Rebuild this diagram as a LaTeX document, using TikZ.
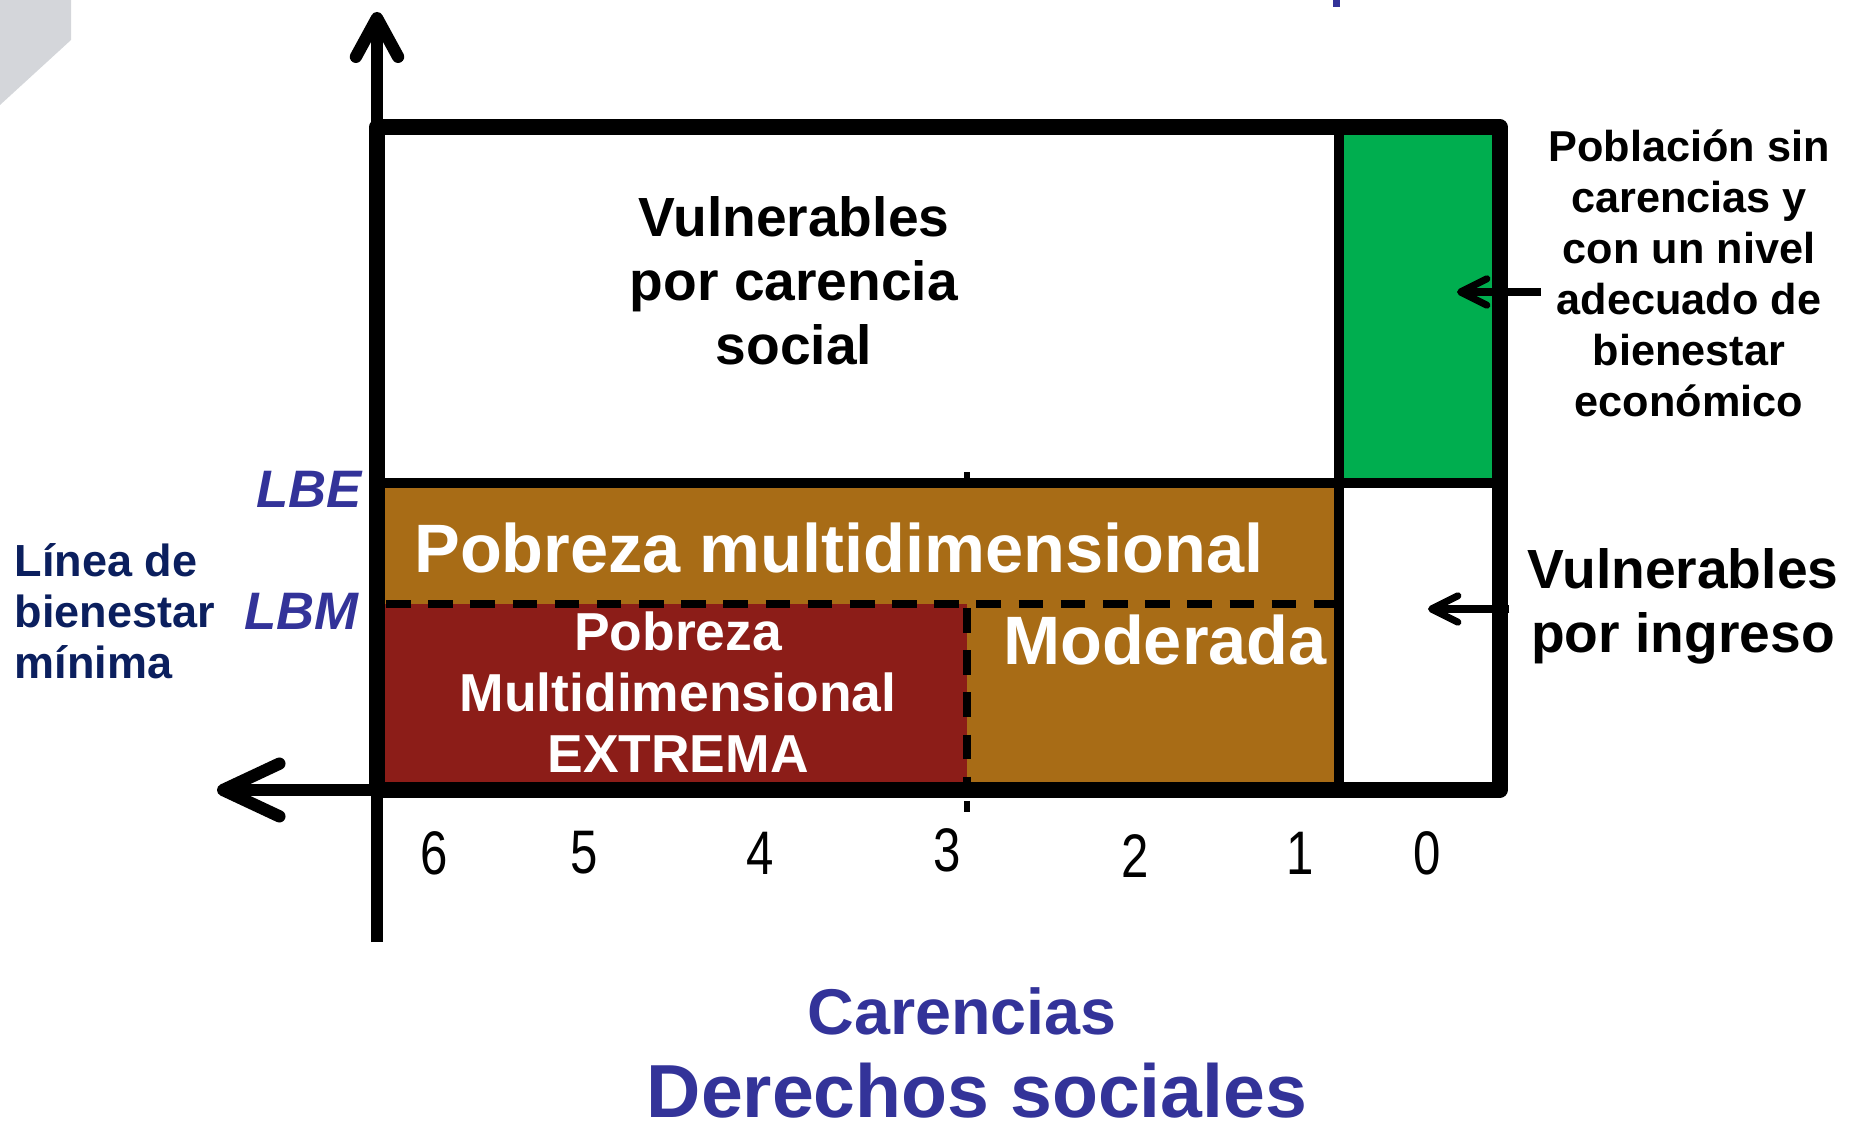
\documentclass[tikz,border=0pt]{standalone}
\usepackage{fontspec}
\setmainfont{Liberation Sans}
\newfontfamily\numfont[FakeStretch=0.8]{Liberation Sans}
\usetikzlibrary{arrows.meta}

\definecolor{pobreza}{HTML}{A86C16}
\definecolor{extrema}{HTML}{8C1D18}
\definecolor{sincarencia}{HTML}{00AE4F}
\definecolor{lineaazul}{HTML}{333399}
\definecolor{lineanavy}{HTML}{0B1F5E}
\definecolor{logogris}{HTML}{D4D6DA}

\tikzset{
	axisy/.style={line width=3.5pt, -{Straight Barb[length=11pt,width=12pt,round]}},
	axisx/.style={line width=3.5pt, -{Straight Barb[length=16pt,width=15pt,round]}},
	pointer/.style={line width=2pt, -{Straight Barb[length=7.5pt,width=7.5pt,round]}},
	frame/.style={line width=4.3pt, line join=round},
	divider/.style={line width=2.7pt},
	cut/.style={line width=2pt, dash pattern=on 7pt off 5pt},
	numlbl/.style={font=\numfont\fontsize{17.5}{20}\selectfont},
	rowlbl/.style={font=\bfseries\itshape\fontsize{15}{18}\selectfont, text=lineaazul, anchor=east, inner sep=1pt},
}

\begin{document}
\begin{tikzpicture}
	% Regions, lines and labels:
	\useasboundingbox (0, 0) rectangle (18.58, 11.25);
	\fill[logogris] (0, 11.25) -- (0.71, 11.25) -- (0.71, 10.85) -- (0, 10.2) -- cycle;
	\fill[lineaazul] (13.33, 11.18) rectangle (13.40, 11.25);
	\fill[pobreza] (3.77, 3.35) rectangle (13.39, 6.42);
	\fill[extrema] (3.77, 3.35) rectangle (9.67, 5.21);
	\fill[sincarencia] (13.39, 6.42) rectangle (15.00, 9.98);
	\draw[cut] (3.86, 5.21) -- (13.39, 5.21);
	\draw[cut] (9.67, 5.17) -- (9.67, 3.35);
	\draw[line width=1.6pt] (9.67, 6.42) -- (9.67, 6.53);
	\draw[line width=1.6pt] (9.67, 3.24) -- (9.67, 3.13);
	\draw[divider] (3.77, 6.42) -- (15.00, 6.42);
	\draw[divider] (13.39, 9.98) -- (13.39, 3.35);
	\coordinate (O) at (3.77, 3.35);
	\coordinate (ytip) at (3.77, 11.13);
	\coordinate (yend) at (3.77, 1.83);
	\coordinate (xtip) at (2.17, 3.35);
	\draw[axisy] (yend) -- (ytip);
	\draw[axisx] (O) -- (xtip);
	\draw[frame] (O) rectangle (15.00, 9.98);
	\node[align=center, font=\bfseries\fontsize{15.7}{18.2}\selectfont] (vulncarencia) at (7.94, 8.44) {Vulnerables\\por carencia\\social};
	\node[font=\bfseries\fontsize{19.5}{23}\selectfont, text=white] (pobmulti) at (8.39, 5.77) {Pobreza multidimensional};
	\node[align=center, font=\bfseries\fontsize{15.2}{17.4}\selectfont, text=white] (pobextrema) at (6.78, 4.33) {Pobreza\\Multidimensional\\EXTREMA};
	\node[font=\bfseries\fontsize{19.5}{23}\selectfont, text=white] (moderada) at (11.65, 4.85) {Moderada};
	\node[align=center, inner sep=2pt, font=\bfseries\fontsize{12.3}{14.5}\selectfont] (poblacion) at (16.89, 8.52) {Población sin\\carencias y\\con un nivel\\adecuado de\\bienestar\\económico};
	\node[align=center, inner sep=2pt, font=\bfseries\fontsize{15.7}{18.2}\selectfont] (vulningreso) at (16.83, 5.19) {Vulnerables\\por ingreso};
	\coordinate (greenpt) at (14.57, 8.33);
	\coordinate (incomept) at (14.28, 5.16);
	\draw[pointer] (poblacion.west |- greenpt) -- (greenpt);
	\draw[pointer] ([xshift=-3pt]vulningreso.west |- incomept) -- (incomept);
	\node[rowlbl] (lbe) at (3.66, 6.36) {LBE};
	\node[rowlbl] (lbm) at (3.63, 5.14) {LBM};
	\node[anchor=west, align=left, inner sep=0pt, text=lineanavy, font=\bfseries\fontsize{12.8}{14.5}\selectfont] (linea) at (0.14, 5.14) {Línea de\\bienestar\\mínima};
	\node[numlbl] (n6) at (4.34, 2.72) {6};
	\node[numlbl] (n5) at (5.84, 2.72) {5};
	\node[numlbl] (n4) at (7.60, 2.72) {4};
	\node[numlbl] (n3) at (9.47, 2.75) {3};
	\node[numlbl] (n2) at (11.35, 2.69) {2};
	\node[numlbl] (n1) at (13.00, 2.72) {1};
	\node[numlbl] (n0) at (14.27, 2.72) {0};
	\node[anchor=base, text=lineaazul, font=\bfseries\fontsize{18.4}{22}\selectfont] (carencias) at (9.62, 0.905) {Carencias};
	\node[anchor=base, inner sep=0pt, text=lineaazul, font=\bfseries\fontsize{21.4}{25}\selectfont] (derechos) at (9.77, 0.08) {Derechos sociales};
\end{tikzpicture}
\end{document}
